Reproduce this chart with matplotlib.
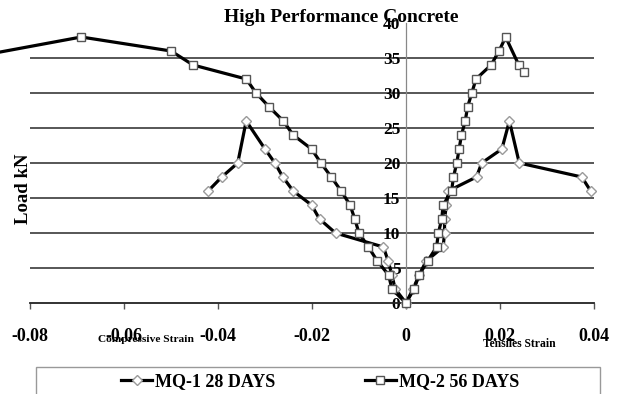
import matplotlib
matplotlib.use("Agg")
import matplotlib.pyplot as plt
from matplotlib.patches import Rectangle

plt.rcParams['font.family'] = ['Liberation Serif', 'DejaVu Serif']
plt.rcParams['font.weight'] = 'bold'

# MQ-1, 28 days: compressive branch (outer end -> origin) then tensile branch
mq1_strain = [-0.0421, -0.0392, -0.0358, -0.0340, -0.0300, -0.0279, -0.0262, -0.0240,
              -0.0201, -0.0184, -0.0150, -0.0048, -0.0038, -0.0030, -0.0023, 0.0,
              0.0015, 0.0028, 0.0043, 0.0079, 0.0082, 0.0082, 0.0086, 0.0090,
              0.0150, 0.0161, 0.0204, 0.0220, 0.0241, 0.0374, 0.0393]
mq1_load = [16, 18, 20, 26, 22, 20, 18, 16,
            14, 12, 10, 8, 6, 4, 2, 0,
            2, 4, 6, 8, 10, 12, 14, 16,
            18, 20, 22, 26, 20, 18, 16]

# MQ-2, 56 days
mq2_strain = [-0.0900, -0.0691, -0.0500, -0.0453, -0.0340, -0.0319, -0.0291, -0.0261,
              -0.0240, -0.0201, -0.0181, -0.0159, -0.0138, -0.0119, -0.0109, -0.0100,
              -0.0080, -0.0061, -0.0037, -0.0030, 0.0,
              0.0017, 0.0028, 0.0046, 0.0065, 0.0069, 0.0076, 0.0079, 0.0097,
              0.0101, 0.0108, 0.0113, 0.0118, 0.0126, 0.0131, 0.0140, 0.0149,
              0.0181, 0.0198, 0.0212, 0.0240, 0.0251]
mq2_load = [35.4, 38, 36, 34, 32, 30, 28, 26,
            24, 22, 20, 18, 16, 14, 12, 10,
            8, 6, 4, 2, 0,
            2, 4, 6, 8, 10, 12, 14, 16,
            18, 20, 22, 24, 26, 28, 30, 32,
            34, 36, 38, 34, 33]

x_ticks = [-0.08, -0.06, -0.04, -0.02, 0, 0.02, 0.04]
x_tick_labels = ['-0.08', '-0.06', '-0.04', '-0.02', '0', '0.02', '0.04']
y_ticks = [0, 5, 10, 15, 20, 25, 30, 35, 40]

W, H = 618, 394
fig = plt.figure(figsize=(W / 100, H / 100), dpi=100)
ax = fig.add_axes([30 / W, (H - 303) / H, 564 / W, 280 / H])
ax.set_xlim(-0.08, 0.04)
ax.set_ylim(0, 40)

ax.plot(mq1_strain, mq1_load, color='black', lw=2.3, marker='D', ms=5.5,
        mfc='white', mec='#9a9a9a', mew=1.0, zorder=4, clip_on=False,
        label='MQ-1 28 DAYS')
ax.plot(mq2_strain, mq2_load, color='black', lw=2.3, marker='s', ms=5.5,
        mfc='white', mec='#555555', mew=1.0, zorder=5, clip_on=False,
        label='MQ-2 56 DAYS')

# axes styling
for side in ('top', 'right'):
    ax.spines[side].set_visible(False)
ax.spines['left'].set_position(('data', 0))
ax.spines['left'].set_color('#888888')
ax.spines['left'].set_linewidth(0.9)
ax.spines['bottom'].set_color('#222222')
ax.spines['bottom'].set_linewidth(1.3)

ax.set_xticks(x_ticks)
ax.set_xticklabels(x_tick_labels, fontsize=13, fontweight='bold')
ax.tick_params(axis='x', direction='out', length=4, width=1, color='#555555', pad=14)
ax.set_yticks(y_ticks)
ax.set_yticklabels([str(v) for v in y_ticks], fontsize=12.5, fontweight='bold')
ax.tick_params(axis='y', length=0, pad=4)

ax.grid(axis='y', color='#3a3a3a', lw=1.2)
ax.get_ygridlines()[-1].set_visible(False)
ax.get_ygridlines()[0].set_visible(False)
ax.set_axisbelow(True)

fig.text(341 / W, 1 - 18 / H, 'High Performance Concrete', ha='center', va='center',
         fontsize=14, fontweight='bold')
fig.text(23 / W, 1 - 189 / H, 'Load kN', rotation=90, ha='center', va='center',
         fontsize=13.5, fontweight='bold')
fig.text(146 / W, 1 - 340 / H, 'Compressive Strain', ha='center', va='center',
         fontsize=8.2, fontweight='bold')
fig.text(519 / W, 1 - 344 / H, 'Tensiles Strain', ha='center', va='center',
         fontsize=8.4, fontweight='bold')

# legend box running off the bottom edge
fig.patches.append(Rectangle((36 / W, -0.05), (600 - 36) / W, 0.05 + (H - 367) / H,
                             transform=fig.transFigure, fill=False,
                             edgecolor='#999999', lw=1.0))
handles, labels = ax.get_legend_handles_labels()
fig.legend(handles, labels, loc='center', bbox_to_anchor=(320 / W, 1 - 382 / H),
           ncol=2, frameon=False, handlelength=1.7, handletextpad=0.15,
           columnspacing=5.0, prop={'weight': 'bold', 'size': 13})

fig.savefig('out.png', dpi=100)
